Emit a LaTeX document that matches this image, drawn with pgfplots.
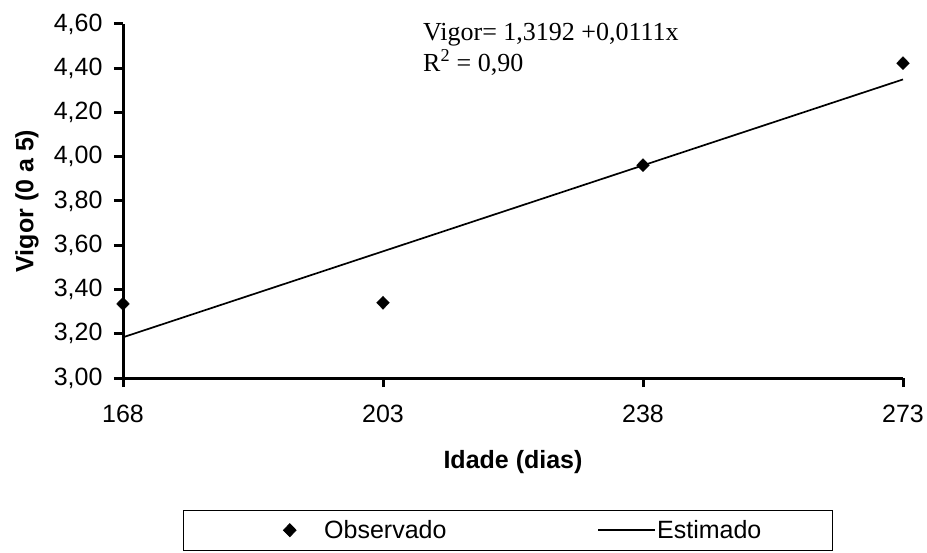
\documentclass[border=0pt]{standalone}
\usepackage{fontspec}
\setmainfont{Liberation Sans}
\newfontfamily\timesfont{Liberation Serif}
\usepackage{pgfplots}
\pgfplotsset{compat=1.18}
\begin{document}
\begin{tikzpicture}
\begin{axis}[
  at={(123pt,174pt)}, anchor=south west,
  scale only axis, width=780pt, height=354pt,
  xmin=168, xmax=273, ymin=3, ymax=4.6,
  axis lines*=left,
  axis line style={line width=3pt},
  xtick={168,203,238,273},
  ytick={3,3.2,3.4,3.6,3.8,4.0,4.2,4.4,4.6},
  tick align=outside,
  major tick length=9pt,
  tick style={black, line width=3pt},
  tick label style={font=\fontsize{25}{30}\selectfont},
  /pgf/number format/assume math mode=true,
  yticklabel style={xshift=-8pt, /pgf/number format/.cd, fixed, fixed zerofill, precision=2, use comma},
  xticklabel style={yshift=-15pt, /pgf/number format/.cd, fixed, precision=0},
  xlabel={Idade (dias)},
  ylabel={Vigor (0 a 5)},
  label style={font=\fontsize{25}{30}\selectfont\bfseries},
  xlabel style={at={(axis description cs:0.5,0)}, anchor=center, yshift=-84pt},
  ylabel style={at={(axis description cs:0,0.5)}, anchor=center, yshift=96pt},
  clip=false,
  legend columns=2,
  legend style={at={(0.0769,-0.3729)}, anchor=north west, draw=black, line width=0.8pt,
    inner xsep=70pt, inner ysep=8pt,
    font=\fontsize{25}{30}\selectfont,
    nodes={inner xsep=1pt, inner ysep=2pt},
    /tikz/every even column/.append style={column sep=150pt}},
  legend cell align=left,
]
\addplot[only marks, mark=diamond*, mark size=6.5pt, mark options={xscale=1.3}, black,
  legend image code/.code={\path (-36pt,0pt) (33pt,0pt); \draw[black, mark=diamond*, mark size=6.5pt, mark options={xscale=1.3}, only marks] plot coordinates {(0pt,0pt)};}]
  coordinates {(168,3.335) (203,3.34) (238,3.962) (273,4.423)};
\addlegendentry{Observado}
\addplot[black, line width=1.7pt, mark=none,
  legend image code/.code={\draw[black, line width=1.7pt] (-2pt,0pt) -- (55pt,0pt);}]
  coordinates {(168,3.1840) (273,4.3495)};
\addlegendentry{Estimado}
\node[anchor=base west, align=left, font=\timesfont\fontsize{26}{31}\selectfont, inner sep=0pt]
  at (rel axis cs:0.3846,0.8672) {Vigor= 1,3192 +0,0111x\\R\textsuperscript{2} = 0,90};
\end{axis}
\pgfresetboundingbox
\path[use as bounding box] (0,0) rectangle (927pt,552pt);
\end{tikzpicture}
\end{document}
